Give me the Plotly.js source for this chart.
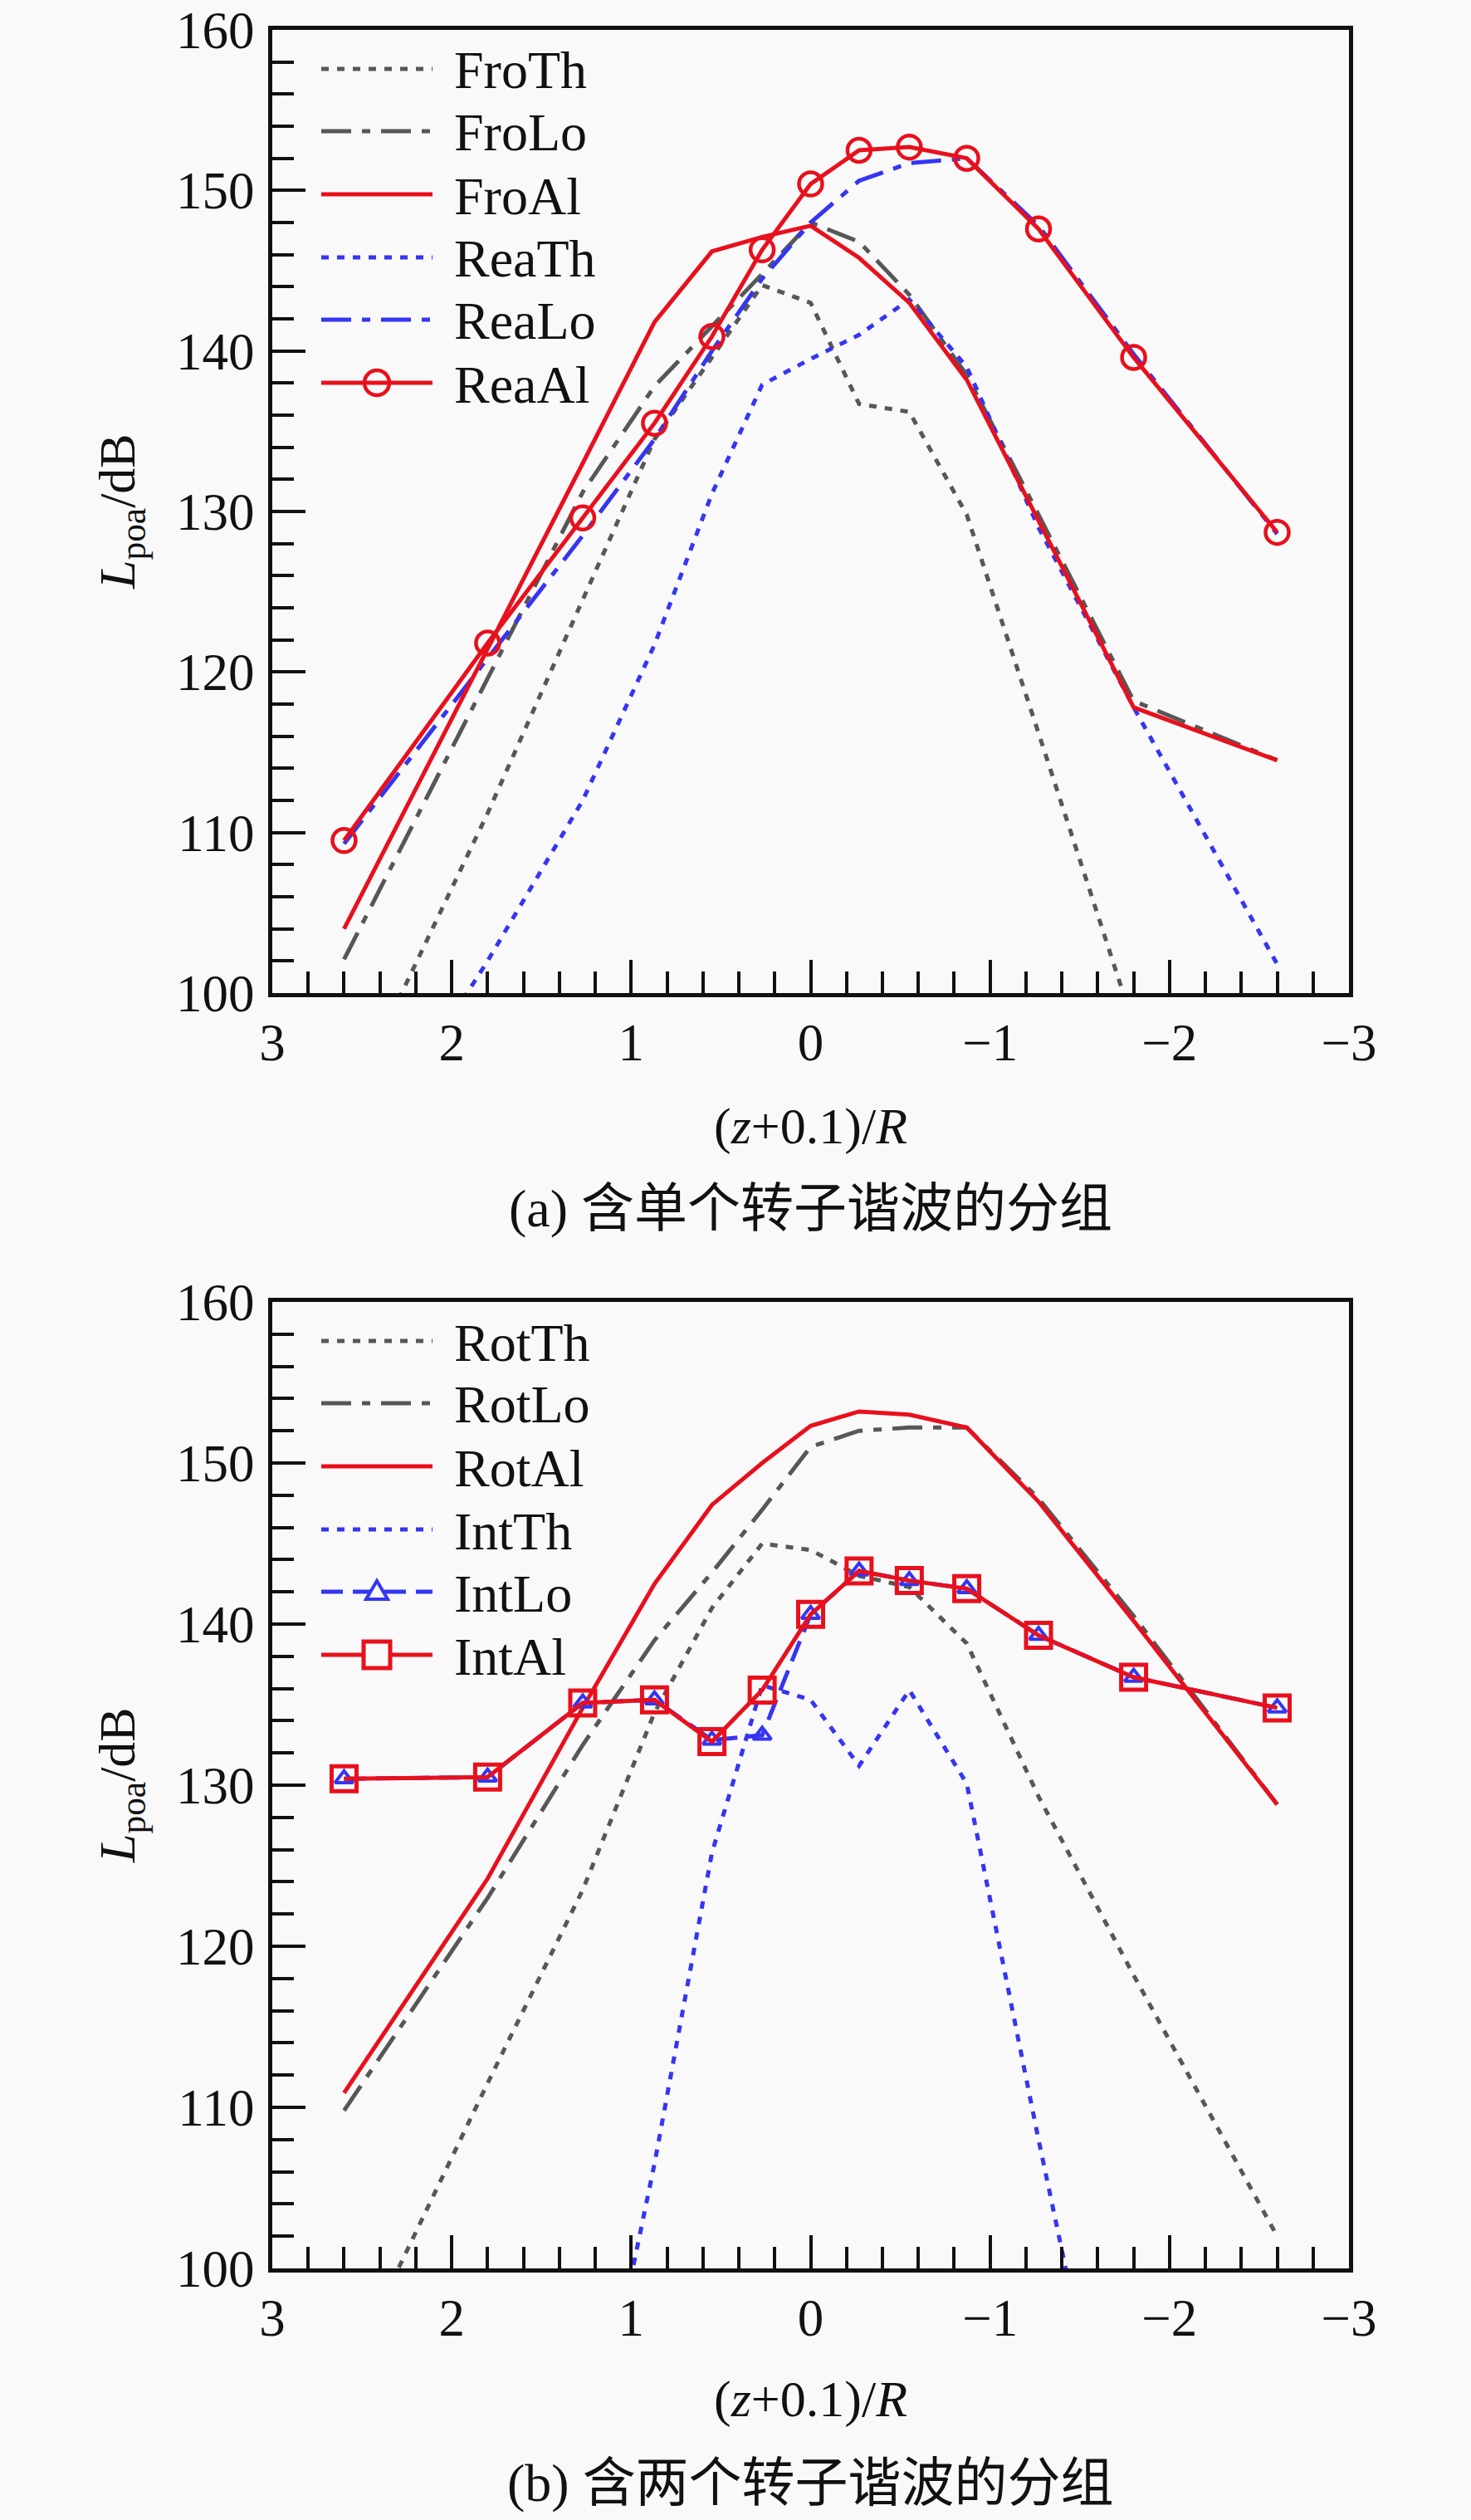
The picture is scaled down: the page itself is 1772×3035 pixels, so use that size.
<!DOCTYPE html>
<html>
<head>
<meta charset="utf-8">
<script src="https://cdn.plot.ly/plotly-3.0.1.min.js"></script>
<style>
html,body{margin:0;padding:0;background:#f9f9f9;}
#chart{width:1772px;height:3035px;}
</style>
</head>
<body>
<div id="chart"></div>
<script>
// ---------- data ----------
const xPos = [2.6, 1.8, 1.27, 0.87, 0.55, 0.27, 0, -0.27, -0.55, -0.87, -1.27, -1.8, -2.6];

// (a) single rotor harmonic groups
const froTh = [92.5, 111.2, 124.5, 134.5, 139.6, 144.1, 143.0, 136.7, 136.2, 129.8, 116.2, 98.0, 86.0];
const froLo = [102.1, 119.6, 131.2, 137.8, 141.5, 144.8, 148.0, 146.8, 143.5, 138.5, 129.8, 118.2, 114.5];
const froAl = [104.0, 121.4, 133.0, 141.8, 146.2, 147.1, 147.8, 145.8, 143.0, 138.2, 129.4, 117.8, 114.5];
const reaTh = [88.0, 102.0, 112.0, 121.7, 131.1, 137.9, 139.5, 141.0, 143.2, 139.0, 129.0, 117.8, 101.8];
const reaLo = [109.3, 120.8, 128.5, 134.5, 140.0, 144.5, 148.0, 150.6, 151.7, 152.0, 147.8, 139.8, 128.6];
const reaAl = [109.5, 121.8, 129.6, 135.5, 140.9, 146.3, 150.4, 152.5, 152.7, 152.0, 147.6, 139.6, 128.7];

// (b) two rotor harmonic groups
const rotTh = [93.0, 111.5, 123.5, 134.5, 141.0, 145.0, 144.6, 143.0, 142.3, 138.8, 129.3, 118.2, 102.0];
const rotLo = [109.8, 123.0, 132.5, 139.0, 143.2, 147.1, 151.0, 152.0, 152.2, 152.2, 147.8, 140.5, 128.8];
const rotAl = [110.9, 124.2, 134.8, 142.5, 147.4, 150.0, 152.3, 153.2, 153.0, 152.2, 147.6, 140.2, 128.8];
const intTh = [60.0, 70.0, 85.0, 106.5, 125.8, 136.2, 135.3, 131.2, 135.9, 130.1, 108.0, 80.0, 70.0];
const intLo = [130.4, 130.5, 135.1, 135.3, 132.8, 133.1, 140.6, 143.3, 142.7, 142.2, 139.3, 136.7, 134.8];
const intAl = [130.4, 130.5, 135.1, 135.3, 132.7, 135.9, 140.6, 143.3, 142.7, 142.2, 139.3, 136.7, 134.8];

const xTickVals = [3, 2, 1, 0, -1, -2, -3];
const xTickText = ['3', '2', '1', '0', '\u22121', '\u22122', '\u22123'];
const yTickVals = [100, 110, 120, 130, 140, 150, 160];
const yTickText = ['100', '110', '120', '130', '140', '150', '160'];

const legendA = ['FroTh', 'FroLo', 'FroAl', 'ReaTh', 'ReaLo', 'ReaAl'];
const legendB = ['RotTh', 'RotLo', 'RotAl', 'IntTh', 'IntLo', 'IntAl'];
const captionA = '(a) 含单个转子谐波的分组';
const captionB = '(b) 含两个转子谐波的分组';
const xTitle = '(<i>z</i>+0.1)/<i>R</i>';
const yTitle = '<i>L</i><sub>poa</sub>/dB';

// ---------- styles ----------
const W = 1772, H = 3035;
const px = v => v / W;
const py = v => 1 - v / H;
const BG = '#f9f9f9';
const INK = '#111111';
const GRAY = '#575757';
const BLUE = '#3535f2';
const RED = '#e8101c';
const SERIF = '"Liberation Serif", "Times New Roman", serif';
const CJK = '"Liberation Serif", "Noto Sans CJK SC", serif';
const DOT = '9px,10px';
const DASHDOT = '36px,13px,10px,13px';
const DASH = '26px,12px';
const LW = 5;

const L = 328, R = 1625;
const T1 = 36, B1 = 1196, T2 = 1568, B2 = 2732;

const styles = {
  Th_g: {line: {color: GRAY, dash: DOT, width: LW}, mode: 'lines'},
  Lo_g: {line: {color: GRAY, dash: DASHDOT, width: LW}, mode: 'lines'},
  Al_r: {line: {color: RED, dash: 'solid', width: LW}, mode: 'lines'},
  Th_b: {line: {color: BLUE, dash: DOT, width: LW}, mode: 'lines'},
  Lo_b: {line: {color: BLUE, dash: DASHDOT, width: LW}, mode: 'lines'},
  AlC_r: {line: {color: RED, dash: 'solid', width: LW}, mode: 'lines+markers',
          marker: {symbol: 'circle-open', size: 28, color: RED, line: {width: 4.5, color: RED}}},
  LoT_b: {line: {color: BLUE, dash: DASH, width: LW}, mode: 'lines+markers',
          marker: {symbol: 'triangle-up-open', size: 19, color: BLUE, line: {width: 4, color: BLUE}}},
  AlS_r: {line: {color: RED, dash: 'solid', width: LW}, mode: 'lines+markers',
          marker: {symbol: 'square-open', size: 30, color: RED, line: {width: 5, color: RED}}}
};

function trace(y, st, xa, ya, name) {
  return Object.assign({type: 'scatter', x: xPos, y: y, xaxis: xa, yaxis: ya, name: name,
    showlegend: false, hoverinfo: 'skip', cliponaxis: true}, JSON.parse(JSON.stringify(st)));
}

const data = [
  trace(froTh, styles.Th_g, 'x', 'y', 'FroTh'),
  trace(froLo, styles.Lo_g, 'x', 'y', 'FroLo'),
  trace(reaTh, styles.Th_b, 'x', 'y', 'ReaTh'),
  trace(reaLo, styles.Lo_b, 'x', 'y', 'ReaLo'),
  trace(froAl, styles.Al_r, 'x', 'y', 'FroAl'),
  trace(reaAl, styles.AlC_r, 'x', 'y', 'ReaAl'),
  trace(rotTh, styles.Th_g, 'x2', 'y2', 'RotTh'),
  trace(rotLo, styles.Lo_g, 'x2', 'y2', 'RotLo'),
  trace(intTh, styles.Th_b, 'x2', 'y2', 'IntTh'),
  trace(rotAl, styles.Al_r, 'x2', 'y2', 'RotAl'),
  trace(intLo, styles.LoT_b, 'x2', 'y2', 'IntLo'),
  trace(intAl, styles.AlS_r, 'x2', 'y2', 'IntAl')
];

function xAxis(anchor) {
  return {
    domain: [px(L), px(R)], range: [3, -3], anchor: anchor, autorange: false,
    tickmode: 'array', tickvals: xTickVals, ticktext: xTickText,
    ticks: 'inside', ticklen: 40, tickwidth: 4, tickcolor: INK,
    minor: {dtick: 0.2, tick0: 0, ticks: 'inside', ticklen: 26, tickwidth: 4, tickcolor: INK, showgrid: false},
    showline: true, linecolor: INK, linewidth: 5, mirror: true,
    showgrid: false, zeroline: false,
    ticklabelstandoff: 0,
    tickfont: {family: SERIF, size: 63, color: INK}
  };
}
function yAxis(anchor, t, b) {
  return {
    domain: [py(b), py(t)], range: [100, 160], anchor: anchor, autorange: false,
    tickmode: 'array', tickvals: yTickVals, ticktext: yTickText,
    ticks: 'inside', ticklen: 40, tickwidth: 4, tickcolor: INK,
    minor: {dtick: 2, tick0: 100, ticks: 'inside', ticklen: 26, tickwidth: 4, tickcolor: INK, showgrid: false},
    showline: true, linecolor: INK, linewidth: 5, mirror: true,
    showgrid: false, zeroline: false,
    ticklabelstandoff: 4,
    tickfont: {family: SERIF, size: 63, color: INK}
  };
}

// ---------- legend (drawn in layout) ----------
const shapes = [];
const annotations = [];
const legRows = [47, 122, 198, 274, 349, 425];
const legX0 = 387, legX1 = 521, legMid = 454, legText = 545;
const legStylesA = [
  {c: GRAY, d: DOT}, {c: GRAY, d: DASHDOT}, {c: RED, d: 'solid'},
  {c: BLUE, d: DOT}, {c: BLUE, d: DASHDOT}, {c: RED, d: 'solid', m: 'circle'}
];
const legStylesB = [
  {c: GRAY, d: DOT}, {c: GRAY, d: DASHDOT}, {c: RED, d: 'solid'},
  {c: BLUE, d: DOT}, {c: BLUE, d: DASH, m: 'triangle'}, {c: RED, d: 'solid', m: 'square'}
];
function addLegend(names, sty, top) {
  names.forEach((n, i) => {
    const yy = top + legRows[i];
    const s = sty[i];
    shapes.push({type: 'line', xref: 'paper', yref: 'paper', x0: px(legX0), x1: px(legX1), y0: py(yy), y1: py(yy),
      line: {color: s.c, width: LW, dash: s.d}});
    if (s.m === 'circle') {
      shapes.push({type: 'circle', xref: 'paper', yref: 'paper', x0: px(legMid - 15), x1: px(legMid + 15),
        y0: py(yy + 15), y1: py(yy - 15), line: {color: RED, width: 4.5}, fillcolor: 'rgba(0,0,0,0)'});
    } else if (s.m === 'square') {
      shapes.push({type: 'rect', xref: 'paper', yref: 'paper', x0: px(legMid - 16), x1: px(legMid + 16),
        y0: py(yy + 16), y1: py(yy - 16), line: {color: RED, width: 5}, fillcolor: BG});
    } else if (s.m === 'triangle') {
      const p = `M${px(legMid - 13)},${py(yy + 9)} L${px(legMid + 13)},${py(yy + 9)} L${px(legMid)},${py(yy - 13)} Z`;
      shapes.push({type: 'path', xref: 'paper', yref: 'paper', path: p, line: {color: BLUE, width: 4}, fillcolor: BG});
    }
    annotations.push({xref: 'paper', yref: 'paper', x: px(legText), y: py(yy + 2), xanchor: 'left', yanchor: 'middle',
      text: n, showarrow: false, font: {family: SERIF, size: 64, color: INK}});
  });
}
addLegend(legendA, legStylesA, T1);
addLegend(legendB, legStylesB, T2);

// ---------- titles and captions ----------
function addTitles(top, bottom, caption, xTitleY, capY) {
  annotations.push({xref: 'paper', yref: 'paper', x: px(145), y: py((top + bottom) / 2), xanchor: 'center', yanchor: 'middle',
    textangle: -90, text: yTitle, showarrow: false, font: {family: SERIF, size: 62, color: INK}});
  annotations.push({xref: 'paper', yref: 'paper', x: px((L + R) / 2), y: py(xTitleY), xanchor: 'center', yanchor: 'middle',
    text: xTitle, showarrow: false, font: {family: SERIF, size: 62, color: INK}});
  annotations.push({xref: 'paper', yref: 'paper', x: px((L + R) / 2), y: py(capY), xanchor: 'center', yanchor: 'middle',
    text: caption, showarrow: false, font: {family: CJK, size: 64, color: INK}});
}
addTitles(T1, B1, captionA, 1356, 1455);
addTitles(T2, B2, captionB, 2889, 2990);

const layout = {
  width: W, height: H,
  margin: {l: 0, r: 0, t: 0, b: 0},
  paper_bgcolor: BG, plot_bgcolor: BG,
  showlegend: false,
  xaxis: xAxis('y'), yaxis: yAxis('x', T1, B1),
  xaxis2: xAxis('y2'), yaxis2: yAxis('x2', T2, B2),
  shapes: shapes, annotations: annotations,
  font: {family: SERIF, color: INK}
};

Plotly.newPlot('chart', data, layout, {staticPlot: true, displayModeBar: false});
</script>
</body>
</html>
